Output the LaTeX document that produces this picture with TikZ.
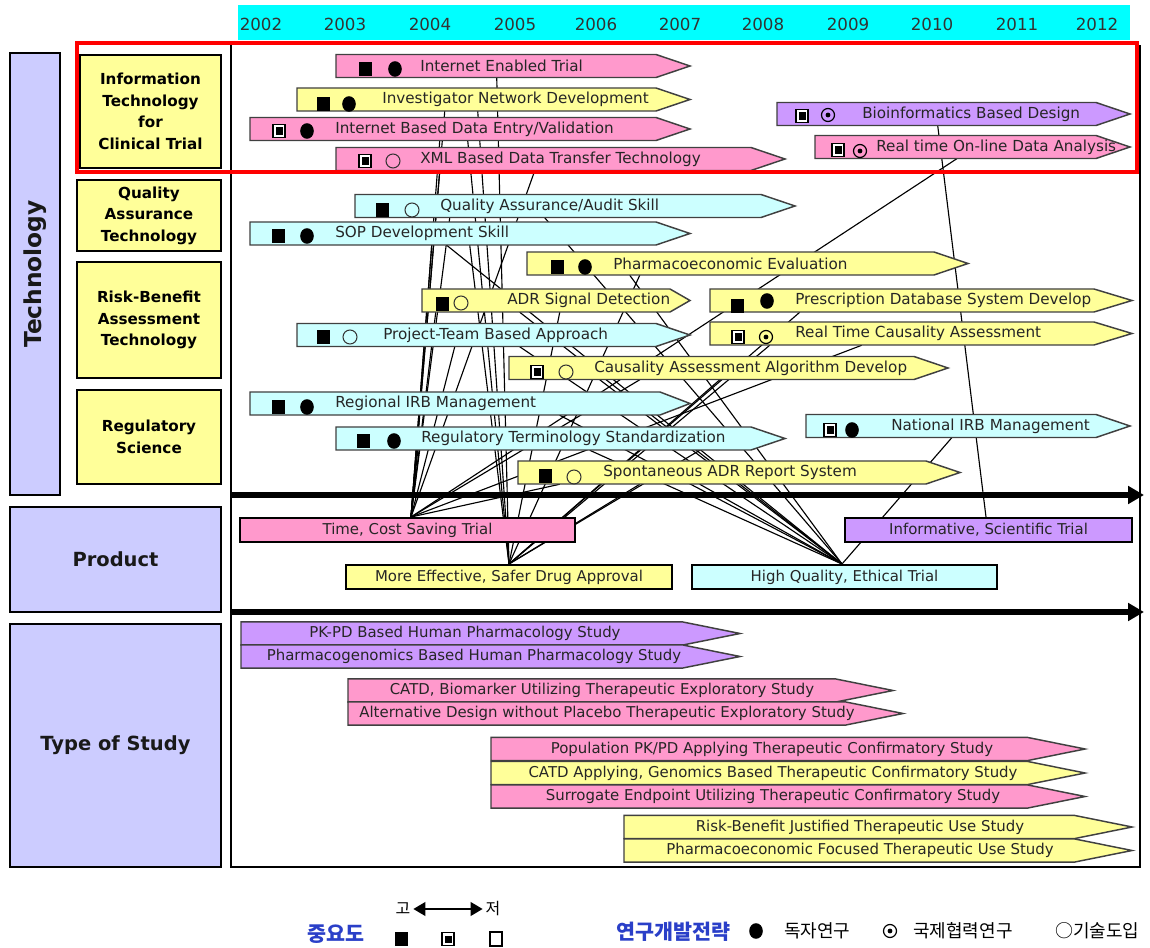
\documentclass[tikz,border=0pt]{standalone}
\usepackage{fontspec}
\setmainfont{DejaVu Sans}
\newfontfamily\kr{Noto Sans CJK KR}
\usetikzlibrary{calc,arrows.meta}
\pgfdeclarelayer{bg}
\pgfdeclarelayer{paper}
\pgfsetlayers{paper,bg,main}
\definecolor{pinkc}{HTML}{FF99CC}
\definecolor{yelc}{HTML}{FFFF99}
\definecolor{cyac}{HTML}{CCFFFF}
\definecolor{purc}{HTML}{CC99FF}
\definecolor{lavc}{HTML}{CCCCFF}
\definecolor{hdrc}{HTML}{00FFFF}
\definecolor{krblue}{HTML}{2A3FC8}
\tikzset{
  conn/.style={black, line width=0.85pt},
  lab/.style={anchor=west, inner sep=0, font=\fontsize{11.4}{13}\selectfont, text=black!85},
  slab/.style={inner sep=0, font=\fontsize{11.2}{13}\selectfont, text=black!85},
  catbox/.style={draw=black, line width=1.9pt, fill=yelc, align=center, inner sep=0,
    font=\fontsize{11.4}{16.2}\selectfont\bfseries},
  bigbox/.style={draw=black, line width=1.9pt, fill=lavc, inner sep=0},
  prodbox/.style={draw=black, line width=1.5pt, inner sep=0, font=\fontsize{11.2}{12}\selectfont, text=black!85},
  yr/.style={font=\fontsize{12.5}{14}\selectfont, text=black!80},
  arrshape/.style={draw=black!75, line width=1.1pt},
}
% box node: name, x1, y1, x2, y2, style, text
\newcommand\bxn[7]{\node[#6, minimum width={(#4-#2)*0.75pt}, minimum height={(#5-#3)*0.75pt}] (#1) at ({(#2+#4)/2},{(#3+#5)/2}) {#7};}
% tech arrow: name, x1, x2 (tip), yc, color, tip length
\newcommand\tarr[6]{%
  \filldraw[arrshape, fill=#5] (#2,#4-11.5) -- (#3-#6,#4-11.5) -- (#3,#4) -- (#3-#6,#4+11.5) -- (#2,#4+11.5) -- cycle;
  \node[inner sep=0, minimum width={(#3-#2)*0.75pt}, minimum height={23*0.75pt}] (#1) at ({(#2+#3)/2},#4) {};}
% markers
\newcommand\Msq[2]{\fill (#1-6.5,#2-7) rectangle (#1+6.5,#2+7);}
\newcommand\Mbx[2]{\draw[line width=0.9pt, fill=white] (#1-6,#2-6.5) rectangle (#1+6,#2+6.5); \fill (#1-3.5,#2-3.5) rectangle (#1+3.5,#2+4);}
\newcommand\Mdot[2]{\fill (#1,#2) ellipse [x radius=6.8, y radius=7.8];}
\newcommand\Modot[2]{\draw[line width=0.9pt] (#1,#2) circle [radius=6.5]; \fill (#1,#2) circle [radius=2.4];}
\newcommand\Mcirc[2]{\draw[line width=0.8pt, draw=black!80] (#1,#2) circle [radius=7];}
\begin{document}
\begin{tikzpicture}[x=0.75pt,y=-0.75pt]
\useasboundingbox (0,0) rectangle (1150,948);
\begin{pgfonlayer}{paper}
\fill[white] (0,0) rectangle (1150,948);
\end{pgfonlayer}
% header
\fill[hdrc] (238,5) rectangle (1130,40);
\foreach \yy/\xx in {2002/261,2003/345,2004/430,2005/515,2006/596,2007/680,2008/763,2009/848,2010/932,2011/1017,2012/1097}
  \node[yr] (y\yy) at (\xx,24) {\yy};
% left boxes
\bxn{tech}{10}{53}{60}{495}{bigbox}{}
\node[rotate=90, font=\fontsize{17.5}{19}\selectfont\bfseries, text=black!90] (techlab) at (tech) {Technology};
\bxn{itc}{80}{55}{221}{168}{catbox}{Information\\Technology\\for\\Clinical Trial}
\bxn{qat}{77}{180}{221}{251}{catbox}{Quality\\Assurance\\Technology}
\bxn{rba}{77}{262}{221}{378}{catbox}{Risk-Benefit\\Assessment\\Technology}
\bxn{rsc}{77}{390}{221}{484}{catbox}{Regulatory\\Science}
\bxn{prd}{10}{507}{221}{612}{bigbox}{}
\node[font=\fontsize{14.6}{16}\selectfont\bfseries, text=black!90] (prdlab) at (prd) {Product};
\bxn{tos}{10}{624}{221}{867}{bigbox}{}
\node[font=\fontsize{14.6}{16}\selectfont\bfseries, text=black!90] (toslab) at (tos) {Type of Study};
% frame
\draw[line width=2.2pt] (231,45) -- (231,867) -- (1140,867) -- (1140,45);
\draw[line width=4.5pt, -{Triangle[length=12pt,width=13pt]}] (231,495) -- (1144,495);
\draw[line width=4.5pt, -{Triangle[length=12pt,width=13pt]}] (231,612) -- (1144,612);
% technology arrows
\tarr{iet}{336}{690}{66}{pinkc}{34}
\Msq{365}{69}\Mdot{395}{69}\node[lab] at (420,66) {Internet Enabled Trial};
\tarr{ind}{297}{690}{99.5}{yelc}{34}
\Msq{323}{104}\Mdot{349}{104}\node[lab] at (382,99.5) {Investigator Network Development};
\tarr{ibd}{250}{690}{129}{pinkc}{34}
\Mbx{279}{131}\Mdot{307}{131}\node[lab] at (335,129) {Internet Based Data Entry/Validation};
\tarr{xml}{336}{785}{159}{pinkc}{34}
\Mbx{365}{161}\Mcirc{393}{161}\node[lab] at (420,159) {XML Based Data Transfer Technology};
\tarr{bio}{777}{1130}{114}{purc}{34}
\Mbx{802}{116}\Modot{828}{115}\node[lab] at (862,114) {Bioinformatics Based Design};
\tarr{rto}{815}{1130}{147}{pinkc}{34}
\Mbx{838}{150}\Modot{860}{151}\node[lab] at (876,147) {Real time On-line Data Analysis};
\tarr{qaa}{355}{795}{206}{cyac}{34}
\Msq{382}{210}\Mcirc{412}{210}\node[lab] at (440,206) {Quality Assurance/Audit Skill};
\tarr{sop}{250}{690}{233.5}{cyac}{34}
\Msq{278}{236}\Mdot{307}{236}\node[lab] at (335,233.5) {SOP Development Skill};
\tarr{phe}{527}{968}{263.5}{yelc}{34}
\Msq{557}{267}\Mdot{585}{267}\node[lab] at (613,263.5) {Pharmacoeconomic Evaluation};
\tarr{adr}{422}{690}{300.5}{yelc}{20}
\Msq{442}{304}\Mcirc{461}{303}\node[lab] at (507,300.5) {ADR Signal Detection};
\tarr{pds}{710}{1132}{300.5}{yelc}{38}
\Msq{737}{306}\Mdot{767}{301}\node[lab] at (795,300.5) {Prescription Database System Develop};
\tarr{ptb}{297}{690}{335}{cyac}{34}
\Msq{323}{337}\Mcirc{350}{337}\node[lab] at (383,335) {Project-Team Based Approach};
\tarr{rtc}{710}{1132}{333.5}{yelc}{38}
\Mbx{738}{337}\Modot{766}{337}\node[lab] at (795,333.5) {Real Time Causality Assessment};
\tarr{caa}{509}{948}{368}{yelc}{34}
\Mbx{537}{372}\Mcirc{566}{372}\node[lab] at (594,368) {Causality Assessment Algorithm Develop};
\tarr{rim}{250}{690}{403.5}{cyac}{30}
\Msq{278}{407}\Mdot{307}{407}\node[lab] at (335,403.5) {Regional IRB Management};
\tarr{rts}{336}{785}{438.5}{cyac}{34}
\Msq{363}{441}\Mdot{394}{441}\node[lab] at (421,438.5) {Regulatory Terminology Standardization};
\tarr{nim}{806}{1130}{426}{cyac}{34}
\Mbx{830}{430}\Mdot{852}{430}\node[lab] at (891,426) {National IRB Management};
\tarr{sar}{518}{960}{472.5}{yelc}{34}
\Msq{545}{476}\Mcirc{574}{477}\node[lab] at (603,472.5) {Spontaneous ADR Report System};
% red box
\draw[red, line width=3pt] (77,43) rectangle (1137,172);
% products
\bxn{tcs}{240}{518}{575}{542}{prodbox, fill=pinkc}{Time, Cost Saving Trial}
\bxn{ist}{845}{518}{1132}{542}{prodbox, fill=purc}{Informative, Scientific Trial}
\bxn{mef}{346}{565}{672}{589}{prodbox, fill=yelc}{More Effective, Safer Drug Approval}
\bxn{hqe}{692}{565}{997}{589}{prodbox, fill=cyac}{High Quality, Ethical Trial}
\coordinate (tc) at ($(tcs.north west)+(172,0)$);
\coordinate (me) at ($(mef.north west)+(164,0)$);
\coordinate (hq) at ($(hqe.north west)+(151,0)$);
\coordinate (isb) at ($(ist.north west)+(142,0)$);
% connectors
\begin{pgfonlayer}{bg}
\foreach \a/\o/\t in {ind/148/tc, ibd/190/tc, xml/199/tc, xml/104/tc, qaa/95/tc, sop/182/tc,
  ptb/158/tc, adr/14/tc, rim/170/tc, rts/82/tc, rto/142/tc, rtc/152/tc, caa/131/tc, sar/42/tc,
  iet/161/me, ind/181/me, ibd/218/me, adr/138/me, phe/113/me, pds/90/me, rtc/60/me, caa/211/me,
  rts/364/me, sar/122/me, sop/220/me,
  qaa/190/hq, sop/197/hq, ptb/223/hq, adr/98/hq, phe/103/hq, caa/91/hq, rim/310/hq, rts/254/hq,
  sar/182/hq, nim/146/hq, bio/161/isb}
  \draw[conn] ($(\a.south west)+(\o,0)$) -- (\t);
\end{pgfonlayer}
% type of study arrows
\newcommand\sarr[7]{%
  \filldraw[arrshape, fill=#5] (#2,#4-11.7) -- (#3-58,#4-11.7) -- (#3,#4) -- (#3-58,#4+11.7) -- (#2,#4+11.7) -- cycle;
  \node[slab] (#1) at (#6,#4) {#7};}
\sarr{s1}{241}{740}{633.5}{purc}{465}{PK-PD Based Human Pharmacology Study}
\sarr{s2}{241}{740}{656.5}{purc}{474}{Pharmacogenomics Based Human Pharmacology Study}
\sarr{s3}{348}{893}{690.5}{pinkc}{602}{CATD, Biomarker Utilizing Therapeutic Exploratory Study}
\sarr{s4}{348}{903}{713.5}{pinkc}{607}{Alternative Design without Placebo Therapeutic Exploratory Study}
\sarr{s5}{491}{1085}{749}{pinkc}{772}{Population PK/PD Applying Therapeutic Confirmatory Study}
\sarr{s6}{491}{1085}{773}{yelc}{773}{CATD Applying, Genomics Based Therapeutic Confirmatory Study}
\sarr{s7}{491}{1085}{796.5}{pinkc}{773}{Surrogate Endpoint Utilizing Therapeutic Confirmatory Study}
\sarr{s8}{624}{1132}{827}{yelc}{860}{Risk-Benefit Justified Therapeutic Use Study}
\sarr{s9}{624}{1132}{850.5}{yelc}{860}{Pharmacoeconomic Focused Therapeutic Use Study}
% legend
\node[font=\kr\fontsize{15.5}{17}\selectfont\bfseries, text=krblue, anchor=west, inner sep=0] (imp) at (307,934) {중요도};
\node[font=\kr\fontsize{12}{13}\selectfont, inner sep=1pt] (hi) at (403,909) {고};
\node[font=\kr\fontsize{12}{13}\selectfont, inner sep=1pt] (lo) at (493,909) {저};
\draw[line width=2pt, {Triangle[length=9pt,width=10pt]}-{Triangle[length=9pt,width=10pt]}] ([xshift=1pt]hi.east) -- ([xshift=-1pt]lo.west);
\Msq{401}{939}
\Mbx{448}{939}
\draw[line width=0.8pt] (490,932) rectangle (502,946);
\node[font=\kr\fontsize{15.5}{17}\selectfont\bfseries, text=krblue, anchor=west, inner sep=0] (rds) at (616,932) {연구개발전략};
\Mdot{756}{931}
\node[font=\kr\fontsize{13.5}{15}\selectfont, anchor=west, inner sep=0] (l1) at (784,931) {독자연구};
\Modot{890}{931}
\node[font=\kr\fontsize{13.5}{15}\selectfont, anchor=west, inner sep=0] (l2) at (913,931) {국제협력연구};
\node[font=\kr\fontsize{13.5}{15}\selectfont, anchor=west, inner sep=0] (l3) at (1055,931) {○기술도입};
\end{tikzpicture}
\end{document}
